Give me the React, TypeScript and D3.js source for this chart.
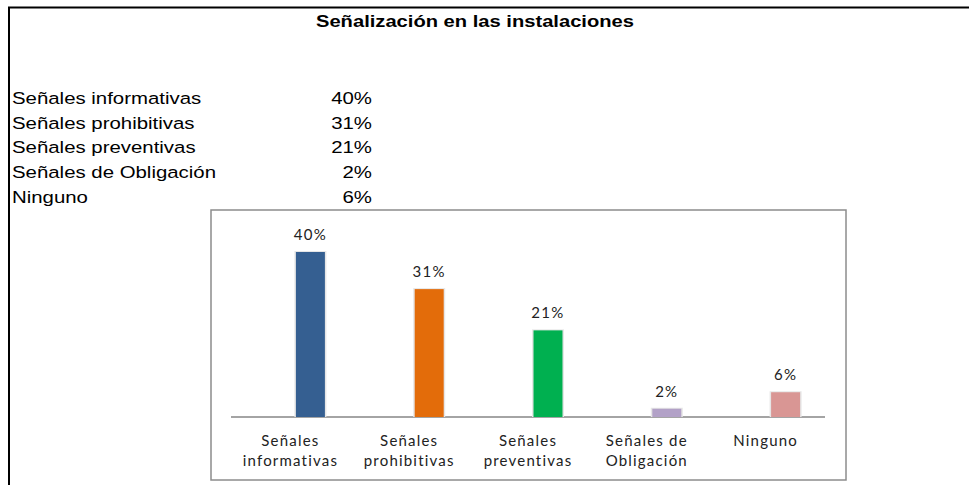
import React from "react";
import * as d3 from "d3";

const title = "Señalización en las instalaciones";
const categories = [
  "Señales informativas",
  "Señales prohibitivas",
  "Señales preventivas",
  "Señales de Obligación",
  "Ninguno",
];
const axisLabels = [
  ["Señales", "informativas"],
  ["Señales", "prohibitivas"],
  ["Señales", "preventivas"],
  ["Señales de", "Obligación"],
  ["Ninguno"],
];
const values = [40, 31, 21, 2, 6];
const colors = ["#355F91", "#E36C0A", "#00B050", "#B2A1C7", "#D99694"];

export default function App() {
  const W = 969;
  const H = 485;
  const plotLeft = 231;
  const plotRight = 825;
  const baseY = 417;
  const x = d3.scaleBand<string>().domain(categories).range([plotLeft, plotRight]);
  const y = d3.scaleLinear().domain([0, 40]).range([baseY, 252]);
  const barW = 29;
  const barOffset = 20;
  const fmt = (v: number) => `${v}%`;
  const rowY = d3.scaleLinear().domain([0, 4]).range([104, 203]);
  const sx = 1.2;
  const tsx = 1.26;

  return (
    <svg
      width={W}
      height={H}
      style={{ position: "absolute", left: 0, top: 0, background: "#fff" }}
    >
      <rect x={0} y={0} width={W} height={H} fill="#fff" />
      {/* outer frame */}
      <line x1={8} x2={W} y1={7.5} y2={7.5} stroke="#000" strokeWidth={2} />
      <line x1={9} x2={9} y1={7} y2={H} stroke="#000" strokeWidth={2} />
      <g transform={`scale(${tsx},1)`}>
        <text
          x={475 / tsx}
          y={27}
          textAnchor="middle"
          fontFamily="Liberation Sans, Arial, sans-serif"
          fontWeight="bold"
          fontSize={16}
          fill="#000"
        >
          {title}
        </text>
      </g>
      {/* table */}
      <g transform={`scale(${sx},1)`}>
        {categories.map((c, i) => (
          <g key={c}>
            <text
              x={12 / sx}
              y={rowY(i)}
              fontFamily="Liberation Sans, Arial, sans-serif"
              fontSize={17}
              fill="#000"
            >
              {c}
            </text>
            <text
              x={372 / sx}
              y={rowY(i)}
              textAnchor="end"
              fontFamily="Liberation Sans, Arial, sans-serif"
              fontSize={17}
              fill="#000"
            >
              {fmt(values[i])}
            </text>
          </g>
        ))}
      </g>
      {/* chart box */}
      <rect x={211} y={210} width={635} height={270} fill="#fff" stroke="#8c8c8c" strokeWidth={1.5} />
      <line x1={plotLeft} x2={plotRight} y1={baseY} y2={baseY} stroke="#868686" strokeWidth={1.5} />
      {categories.map((c, i) => {
        const cx = (x(c) as number) + x.bandwidth() / 2 + barOffset;
        const top = y(values[i]);
        return (
          <g key={c}>
            <rect x={cx - barW / 2 - 1.5} y={top - 1} width={barW + 3} height={baseY - top + 1} fill="#e6e6e6" />
            <rect x={cx - barW / 2} y={top} width={barW} height={baseY - top} fill={colors[i]} />
            <text
              x={cx}
              y={top - 12}
              textAnchor="middle"
              fontFamily="Lato, sans-serif"
              fontSize={15}
              letterSpacing={1.3}
              fill="#222"
            >
              {fmt(values[i])}
            </text>
          </g>
        );
      })}
      {categories.map((c, i) => {
        const cx = (x(c) as number) + x.bandwidth() / 2;
        return (
          <text
            key={c}
            textAnchor="middle"
            fontFamily="Lato, sans-serif"
            fontSize={15}
            letterSpacing={1.2}
            fill="#222"
          >
            {axisLabels[i].map((l, j) => (
              <tspan key={j} x={cx} y={446 + j * 20}>
                {l}
              </tspan>
            ))}
          </text>
        );
      })}
    </svg>
  );
}
